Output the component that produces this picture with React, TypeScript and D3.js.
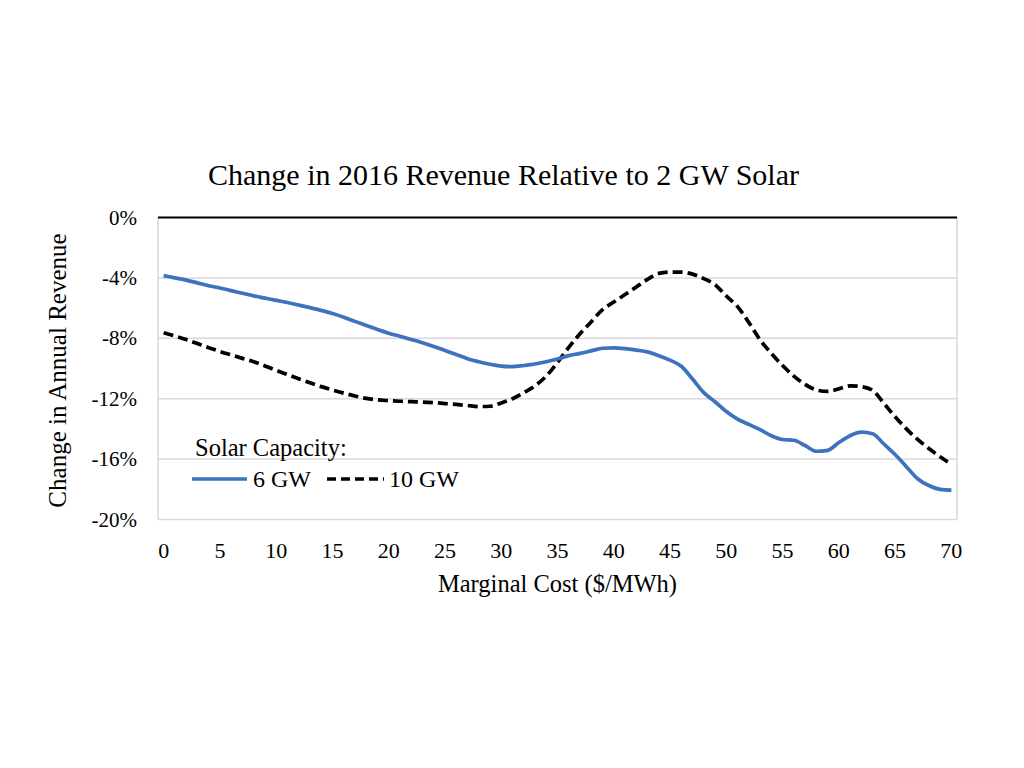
import React from "react";
import * as d3 from "d3";

const xValues: number[] = d3.range(0, 71);
const xTicks: number[] = [0, 5, 10, 15, 20, 25, 30, 35, 40, 45, 50, 55, 60, 65, 70];
const yTicks: number[] = [0, -4, -8, -12, -16, -20];

const gw6: number[] = [
  -3.85, -4.0, -4.15, -4.33, -4.52, -4.67, -4.84, -5.02, -5.19, -5.34,
  -5.49, -5.63, -5.8, -5.97, -6.15, -6.36, -6.6, -6.88, -7.15, -7.42,
  -7.66, -7.87, -8.08, -8.3, -8.55, -8.8, -9.07, -9.35, -9.55, -9.72,
  -9.84, -9.88, -9.8, -9.7, -9.55, -9.37, -9.15, -9.0, -8.83, -8.66,
  -8.63, -8.68, -8.78, -8.9, -9.15, -9.45, -9.85, -10.7, -11.6, -12.2,
  -12.85, -13.35, -13.7, -14.05, -14.45, -14.7, -14.75, -15.1, -15.48, -15.42,
  -14.9, -14.45, -14.22, -14.32, -15.0, -15.7, -16.5, -17.3, -17.75, -18.0,
  -18.05,
];

const gw10: number[] = [
  -7.63, -7.85, -8.08, -8.35, -8.62, -8.87, -9.1, -9.33, -9.55, -9.83,
  -10.12, -10.4, -10.68, -10.95, -11.2, -11.42, -11.63, -11.82, -11.98, -12.08,
  -12.13, -12.17, -12.2, -12.22, -12.26, -12.32, -12.38, -12.45, -12.52, -12.5,
  -12.28, -12.0, -11.6, -11.15, -10.5, -9.6, -8.6, -7.7, -6.9, -6.1,
  -5.6, -5.1, -4.6, -4.1, -3.7, -3.62, -3.62, -3.75, -4.05, -4.45,
  -5.2, -5.9, -6.95, -8.1, -9.0, -9.8, -10.5, -11.05, -11.42, -11.52,
  -11.35, -11.15, -11.2, -11.45, -12.3, -13.2, -14.0, -14.7, -15.3, -15.85,
  -16.35,
];

const title = "Change in 2016 Revenue Relative to 2 GW Solar";
const xTitle = "Marginal Cost ($/MWh)";
const yTitle = "Change in Annual Revenue";
const legendTitle = "Solar Capacity:";
const seriesNames: string[] = ["6 GW", "10 GW"];

export default function App() {
  const W = 1024;
  const H = 768;
  const left = 158;
  const right = 957;
  const top = 217.5;
  const bottom = 519.5;
  const font = "'Liberation Serif', 'Times New Roman', serif";

  const x = d3.scaleLinear().domain([-0.5, 70.5]).range([left, right]);
  const y = d3.scaleLinear().domain([0, -20]).range([top, bottom]);

  const line = d3
    .line<number>()
    .x((_, i) => x(xValues[i]))
    .y((d) => y(d))
    .curve(d3.curveMonotoneX);

  const blue = "#3d72be";

  return (
    <svg width={W} height={H} style={{ position: "absolute", left: 0, top: 0, background: "#fff" }} fontFamily={font}>
      <rect x={0} y={0} width={W} height={H} fill="#fff" />
      <text x={503.5} y={185} textAnchor="middle" fontSize={30} fill="#000">
        {title}
      </text>
      {yTicks.map((t) => (
        <line key={t} x1={left} x2={right} y1={y(t)} y2={y(t)} stroke="#d9d9d9" strokeWidth={1.5} />
      ))}
      <line x1={left} x2={left} y1={top} y2={bottom} stroke="#d9d9d9" strokeWidth={1.5} />
      <line x1={right} x2={right} y1={top} y2={bottom} stroke="#d9d9d9" strokeWidth={1.5} />
      <line x1={left} x2={right} y1={y(0)} y2={y(0)} stroke="#000" strokeWidth={2} />
      {yTicks.map((t) => (
        <text key={t} x={137} y={y(t) + 7} textAnchor="end" fontSize={21} fill="#000">
          {`${t}%`}
        </text>
      ))}
      {xTicks.map((t) => (
        <text key={t} x={x(t)} y={558} textAnchor="middle" fontSize={22} fill="#000">
          {t}
        </text>
      ))}
      <text x={557.5} y={592} textAnchor="middle" fontSize={24.5} fill="#000">
        {xTitle}
      </text>
      <text
        transform={`translate(66,${(top + bottom) / 2 + 2}) rotate(-90)`}
        textAnchor="middle"
        fontSize={25}
        fill="#000"
      >
        {yTitle}
      </text>
      <path d={line(gw10) || ""} fill="none" stroke="#000" strokeWidth={3.7} strokeDasharray="10,5" />
      <path d={line(gw6) || ""} fill="none" stroke={blue} strokeWidth={3.7} />
      <text x={195} y={456} fontSize={24.5} fill="#000">
        {legendTitle}
      </text>
      <line x1={192} x2={247} y1={479} y2={479} stroke={blue} strokeWidth={3.7} />
      <text x={253} y={487} fontSize={24} fill="#000">
        {seriesNames[0]}
      </text>
      <line x1={327} x2={384} y1={479} y2={479} stroke="#000" strokeWidth={3.7} strokeDasharray="9,5" />
      <text x={389} y={487} fontSize={24} fill="#000">
        {seriesNames[1]}
      </text>
    </svg>
  );
}
